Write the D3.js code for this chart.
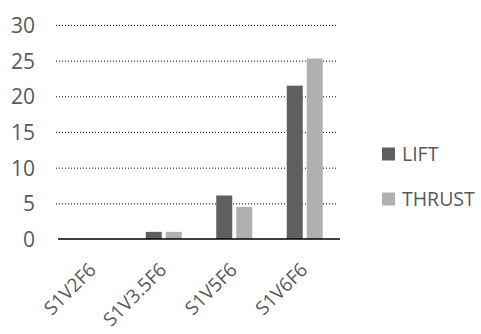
<!DOCTYPE html>
<html>
<head>
<meta charset="utf-8">
<script src="https://cdn.jsdelivr.net/npm/d3@7"></script>
<style>
  html, body { margin: 0; padding: 0; background: #fff; }
  svg { display: block; }
</style>
</head>
<body>
<svg id="chart" width="481" height="334"></svg>
<script>
// Test cases and measured forces
const categories = ["S1V2F6", "S1V3.5F6", "S1V5F6", "S1V6F6"];
const lift = [0, 1.0, 6.1, 21.5];
const thrust = [0, 1.0, 4.5, 25.3];
const seriesNames = ["LIFT", "THRUST"];
const yTicks = [0, 5, 10, 15, 20, 25, 30];

const colors = { LIFT: "#5f5f5f", THRUST: "#b0b0b0" };
const textColor = "#595959";
const font = "'Open Sans', sans-serif";

const svg = d3.select("#chart");
const plot = { left: 58, right: 340, top: 25, bottom: 239 };

const x = d3.scaleBand().domain(categories).range([plot.left, plot.right]);
const xInner = d3.scaleBand().domain(seriesNames).range([x.bandwidth() / 2 - 18, x.bandwidth() / 2 + 18]).paddingInner(0.2);
const y = d3.scaleLinear().domain([0, 30]).range([plot.bottom, plot.top]);

// dotted horizontal gridlines
svg.append("g")
  .selectAll("line")
  .data(yTicks.filter(t => t > 0))
  .join("line")
  .attr("x1", 56).attr("x2", 338)
  .attr("y1", d => y(d) + 0.5).attr("y2", d => y(d) + 0.5)
  .attr("stroke", "#000")
  .attr("stroke-width", 1)
  .attr("stroke-dasharray", "1,2");

// y axis labels
const yAxis = d3.axisLeft(y).tickValues(yTicks).tickSize(0).tickPadding(0);
svg.append("g")
  .attr("transform", "translate(35,0)")
  .call(yAxis)
  .call(g => g.select(".domain").remove())
  .selectAll("text")
  .attr("fill", textColor)
  .attr("font-family", font)
  .attr("font-size", 21)
  .attr("dy", "0.35em");

// bars
const rows = categories.map((c, i) => ({ cat: c, values: [
  { key: "LIFT", value: lift[i] },
  { key: "THRUST", value: thrust[i] }
]}));

svg.append("g")
  .selectAll("g")
  .data(rows)
  .join("g")
  .attr("transform", d => `translate(${x(d.cat)},0)`)
  .selectAll("rect")
  .data(d => d.values)
  .join("rect")
  .attr("x", d => xInner(d.key))
  .attr("width", xInner.bandwidth())
  .attr("y", d => y(d.value))
  .attr("height", d => y(0) - y(d.value))
  .attr("fill", d => colors[d.key]);

// x axis baseline and rotated labels
const xAxis = d3.axisBottom(x).tickSize(0).tickPadding(0);
svg.append("g")
  .attr("transform", `translate(0,${plot.bottom})`)
  .call(xAxis)
  .call(g => g.select(".domain")
    .attr("stroke", "#000")
    .attr("stroke-width", 1.6)
    .attr("d", `M${plot.left},0H${plot.right}`))
  .selectAll("text")
  .attr("fill", textColor)
  .attr("font-family", font)
  .attr("font-size", 19)
  .attr("text-anchor", "end")
  .attr("y", 0)
  .attr("dy", null)
  .attr("transform", "translate(4,32) rotate(-45)");

// legend
const legend = svg.append("g")
  .selectAll("g")
  .data(seriesNames)
  .join("g")
  .attr("transform", (d, i) => `translate(382,${147.5 + i * 45})`);
legend.append("rect")
  .attr("width", 13).attr("height", 13)
  .attr("fill", d => colors[d]);
legend.append("text")
  .attr("x", 20).attr("y", 6.5)
  .attr("dy", "0.35em")
  .attr("fill", textColor)
  .attr("font-family", font)
  .attr("font-size", 19.5)
  .text(d => d);
</script>
</body>
</html>
